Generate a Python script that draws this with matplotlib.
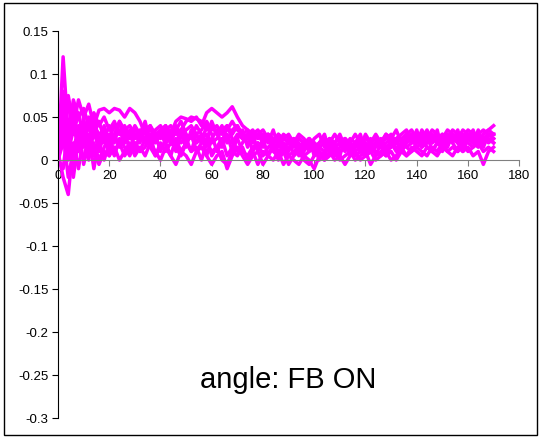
import numpy as np
import matplotlib
matplotlib.use("Agg")
import matplotlib.pyplot as plt
from matplotlib.patches import Rectangle

plt.rcParams["font.family"] = ["Liberation Sans", "DejaVu Sans"]

# x positions (every 2 units, 0..170)
x_vals = list(range(0, 171, 2))

series_1 = [
    0.000, 0.120, 0.030, 0.070, 0.050, 0.060, 0.040, 0.055, 0.040, 0.050,
    0.035, 0.045, 0.030, 0.040, 0.025, 0.035, 0.030, 0.020, 0.030, 0.025,
    0.035, 0.040, 0.030, 0.045, 0.050, 0.048, 0.045, 0.050, 0.040, 0.055,
    0.060, 0.055, 0.050, 0.055, 0.062, 0.050, 0.040, 0.035, 0.030, 0.035,
    0.025, 0.030, 0.020, 0.025, 0.015, 0.020, 0.025, 0.015, 0.020, 0.010,
    0.020, 0.015, 0.020, 0.025, 0.015, 0.020, 0.010, 0.020, 0.015, 0.025,
    0.020, 0.015, 0.020, 0.025, 0.015, 0.020, 0.025, 0.030, 0.035, 0.020,
    0.030, 0.025, 0.020, 0.030, 0.025, 0.020, 0.030, 0.025, 0.020, 0.030,
    0.025, 0.035, 0.020, 0.030, 0.035, 0.040,
]
series_2 = [
    0.000, 0.020, 0.075, 0.040, 0.070, 0.050, 0.065, 0.040, 0.058, 0.060,
    0.055, 0.060, 0.058, 0.050, 0.060, 0.055, 0.045, 0.030, 0.035, 0.030,
    0.025, 0.035, 0.040, 0.030, 0.035, 0.045, 0.050, 0.048, 0.045, 0.035,
    0.040, 0.030, 0.035, 0.040, 0.030, 0.040, 0.030, 0.025, 0.020, 0.030,
    0.035, 0.025, 0.020, 0.030, 0.025, 0.020, 0.015, 0.025, 0.020, 0.015,
    0.010, 0.020, 0.025, 0.015, 0.020, 0.025, 0.020, 0.015, 0.020, 0.010,
    0.015, 0.020, 0.025, 0.020, 0.030, 0.025, 0.020, 0.015, 0.025, 0.030,
    0.020, 0.025, 0.035, 0.020, 0.025, 0.030, 0.020, 0.025, 0.030, 0.020,
    0.030, 0.025, 0.020, 0.025, 0.030, 0.030,
]
series_3 = [
    0.010, -0.020, -0.040, 0.020, -0.010, 0.030, 0.005, 0.020, 0.000, 0.015,
    0.025, 0.010, 0.020, 0.005, 0.015, 0.020, 0.010, 0.025, 0.015, 0.005,
    0.020, 0.010, 0.020, 0.015, 0.005, 0.020, 0.010, 0.015, 0.000, 0.020,
    0.010, 0.015, 0.000, -0.005, 0.010, 0.005, 0.015, 0.000, 0.010, -0.005,
    0.010, 0.005, 0.015, 0.000, 0.010, -0.005, 0.005, 0.010, 0.000, -0.005,
    0.005, 0.010, 0.000, 0.005, 0.010, 0.000, 0.005, 0.010, 0.000, 0.005,
    0.010, -0.005, 0.005, 0.010, 0.005, 0.010, 0.000, 0.010, 0.005, 0.015,
    0.010, 0.005, 0.015, 0.010, 0.005, 0.015, 0.010, 0.005, 0.015, 0.010,
    0.015, 0.005, 0.010, -0.005, 0.010, 0.015,
]
series_4 = [
    0.000, 0.050, 0.010, 0.035, 0.020, 0.000, 0.030, -0.010, 0.025, 0.020,
    0.030, 0.025, 0.035, 0.020, 0.030, 0.025, 0.035, 0.020, 0.030, 0.025,
    0.030, 0.020, 0.025, 0.035, 0.020, 0.025, 0.030, 0.020, 0.025, 0.030,
    0.020, 0.025, 0.035, 0.025, 0.020, 0.030, 0.025, 0.020, 0.025, 0.015,
    0.020, 0.025, 0.015, 0.020, 0.010, 0.015, 0.020, 0.010, 0.015, 0.020,
    0.010, 0.015, 0.010, 0.020, 0.015, 0.010, 0.015, 0.020, 0.010, 0.015,
    0.020, 0.010, 0.015, 0.020, 0.010, 0.015, 0.020, 0.025, 0.015, 0.020,
    0.025, 0.015, 0.020, 0.025, 0.020, 0.015, 0.020, 0.030, 0.020, 0.025,
    0.020, 0.015, 0.025, 0.020, 0.025, 0.020,
]
series_5 = [
    0.000, 0.030, -0.020, 0.010, 0.040, -0.005, 0.020, 0.010, -0.005, 0.010,
    0.005, 0.015, 0.000, 0.010, 0.020, 0.005, 0.015, 0.005, 0.020, 0.010,
    0.000, 0.015, 0.005, -0.005, 0.010, 0.005, -0.005, 0.010, 0.015, 0.005,
    -0.005, 0.005, 0.010, -0.010, 0.005, 0.015, 0.005, -0.005, 0.005, 0.010,
    -0.005, 0.005, 0.000, 0.010, -0.005, 0.005, 0.000, -0.005, 0.005, 0.000,
    -0.010, 0.005, 0.000, 0.010, 0.000, 0.005, -0.005, 0.005, 0.010, 0.000,
    0.005, 0.010, 0.000, 0.005, 0.010, 0.000, 0.005, 0.015, 0.005, 0.010,
    0.015, 0.010, 0.005, 0.015, 0.010, 0.020, 0.010, 0.015, 0.010, 0.020,
    0.010, 0.015, 0.020, 0.010, 0.015, 0.010,
]
series_6 = [
    0.005, 0.060, 0.020, 0.050, 0.030, 0.045, 0.020, 0.040, 0.030, 0.035,
    0.025, 0.040, 0.030, 0.035, 0.040, 0.030, 0.025, 0.035, 0.040, 0.030,
    0.035, 0.025, 0.030, 0.040, 0.030, 0.035, 0.040, 0.030, 0.035, 0.045,
    0.035, 0.040, 0.030, 0.035, 0.045, 0.035, 0.030, 0.035, 0.025, 0.030,
    0.020, 0.030, 0.025, 0.020, 0.030, 0.025, 0.020, 0.025, 0.020, 0.025,
    0.015, 0.020, 0.025, 0.020, 0.030, 0.020, 0.025, 0.020, 0.030, 0.020,
    0.025, 0.020, 0.030, 0.020, 0.025, 0.030, 0.020, 0.025, 0.030, 0.035,
    0.025, 0.030, 0.025, 0.035, 0.030, 0.025, 0.035, 0.030, 0.025, 0.035,
    0.030, 0.025, 0.030, 0.035, 0.030, 0.030,
]
series_7 = [
    0.000, 0.070, 0.000, 0.060, 0.010, 0.050, 0.000, 0.035, 0.010, 0.030,
    0.005, 0.030, 0.015, 0.035, 0.010, 0.030, 0.020, 0.040, 0.015, 0.030,
    0.010, 0.025, 0.035, 0.010, 0.030, 0.015, 0.035, 0.020, 0.030, 0.005,
    0.025, 0.035, 0.015, 0.030, 0.010, 0.025, 0.035, 0.015, 0.030, 0.010,
    0.025, 0.005, 0.020, 0.030, 0.010, 0.025, 0.005, 0.020, 0.010, 0.025,
    0.005, 0.020, 0.030, 0.010, 0.020, 0.005, 0.025, 0.010, 0.020, 0.030,
    0.010, 0.025, 0.005, 0.020, 0.030, 0.015, 0.025, 0.010, 0.030, 0.020,
    0.035, 0.015, 0.030, 0.020, 0.035, 0.010, 0.025, 0.020, 0.035, 0.015,
    0.030, 0.020, 0.035, 0.015, 0.030, 0.025,
]
series_8 = [
    0.000, -0.010, 0.040, -0.020, 0.025, 0.045, 0.010, 0.050, 0.020, 0.040,
    0.015, 0.030, 0.045, 0.020, 0.035, 0.010, 0.030, 0.025, 0.040, 0.020,
    0.030, 0.040, 0.020, 0.015, 0.035, 0.025, 0.010, 0.030, 0.020, 0.040,
    0.030, 0.010, 0.020, 0.040, 0.025, 0.010, 0.020, 0.030, 0.010, 0.020,
    0.015, 0.030, 0.010, 0.005, 0.020, 0.010, 0.025, 0.005, 0.015, 0.025,
    0.020, 0.010, 0.005, 0.020, 0.010, 0.015, 0.025, 0.005, 0.015, 0.020,
    0.005, 0.010, 0.020, 0.015, 0.005, 0.020, 0.015, 0.010, 0.020, 0.025,
    0.015, 0.020, 0.030, 0.010, 0.020, 0.025, 0.015, 0.030, 0.020, 0.010,
    0.025, 0.020, 0.030, 0.020, 0.025, 0.020,
]
series_9 = [
    0.005, 0.080, 0.020, -0.010, 0.030, 0.015, 0.045, 0.005, 0.020, 0.000,
    0.020, 0.005, 0.025, 0.015, 0.005, 0.020, 0.010, 0.015, 0.030, 0.005,
    0.015, 0.020, 0.005, 0.025, 0.010, 0.020, 0.030, 0.010, 0.020, 0.025,
    0.005, 0.015, 0.025, 0.005, 0.015, 0.025, 0.010, 0.005, 0.015, 0.020,
    0.005, 0.015, 0.020, 0.010, 0.015, 0.005, 0.010, 0.015, 0.005, 0.010,
    0.015, 0.000, 0.010, 0.015, 0.005, 0.010, 0.015, 0.020, 0.005, 0.010,
    0.005, 0.015, 0.010, 0.005, 0.015, 0.020, 0.010, 0.020, 0.015, 0.010,
    0.020, 0.025, 0.015, 0.010, 0.020, 0.015, 0.025, 0.020, 0.010, 0.020,
    0.025, 0.020, 0.015, 0.025, 0.020, 0.025,
]
series_10 = [
    0.000, 0.040, 0.065, 0.030, 0.055, 0.025, 0.050, 0.030, 0.045, 0.025,
    0.040, 0.020, 0.045, 0.035, 0.025, 0.040, 0.030, 0.045, 0.020, 0.035,
    0.040, 0.030, 0.020, 0.035, 0.045, 0.030, 0.025, 0.040, 0.030, 0.020,
    0.045, 0.030, 0.040, 0.020, 0.035, 0.040, 0.025, 0.030, 0.035, 0.025,
    0.030, 0.020, 0.035, 0.015, 0.025, 0.030, 0.020, 0.030, 0.025, 0.015,
    0.025, 0.030, 0.015, 0.025, 0.020, 0.030, 0.015, 0.025, 0.020, 0.015,
    0.030, 0.020, 0.025, 0.015, 0.020, 0.025, 0.035, 0.020, 0.025, 0.030,
    0.020, 0.035, 0.025, 0.030, 0.020, 0.030, 0.025, 0.035, 0.030, 0.025,
    0.035, 0.030, 0.020, 0.030, 0.035, 0.030,
]
all_series = [series_1, series_2, series_3, series_4, series_5,
              series_6, series_7, series_8, series_9, series_10]

fig = plt.figure(figsize=(5.42, 4.37), dpi=100)
ax = fig.add_axes([0.107, 0.043, 0.851, 0.886])

for s in all_series:
    ax.plot(x_vals, s, color="#FF00FF", linewidth=2.5)

ax.set_xlim(0, 180)
ax.set_ylim(-0.3, 0.15)
ax.set_xticks(range(0, 181, 20))
ax.set_yticks([-0.3, -0.25, -0.2, -0.15, -0.1, -0.05, 0, 0.05, 0.1, 0.15])
ax.set_yticklabels(["-0.3", "-0.25", "-0.2", "-0.15", "-0.1", "-0.05", "0", "0.05", "0.1", "0.15"])

# Excel style axes: x axis crosses at y = 0
ax.spines["top"].set_visible(False)
ax.spines["right"].set_visible(False)
ax.spines["bottom"].set_position(("data", 0))
ax.spines["bottom"].set_color("#808080")
ax.spines["left"].set_color("black")
ax.tick_params(axis="x", direction="out", length=4, color="#808080", labelsize=9.5, pad=3)
ax.tick_params(axis="y", direction="out", length=4, color="black", labelsize=9.5, pad=3)

ax.text(90, -0.256, "angle: FB ON", fontsize=21, ha="center", va="center")

# outer chart border
fig.patches.append(Rectangle((0.008, 0.005), 0.983, 0.988, transform=fig.transFigure,
                             fill=False, edgecolor="black", linewidth=1))

fig.savefig("out.png", dpi=100)
